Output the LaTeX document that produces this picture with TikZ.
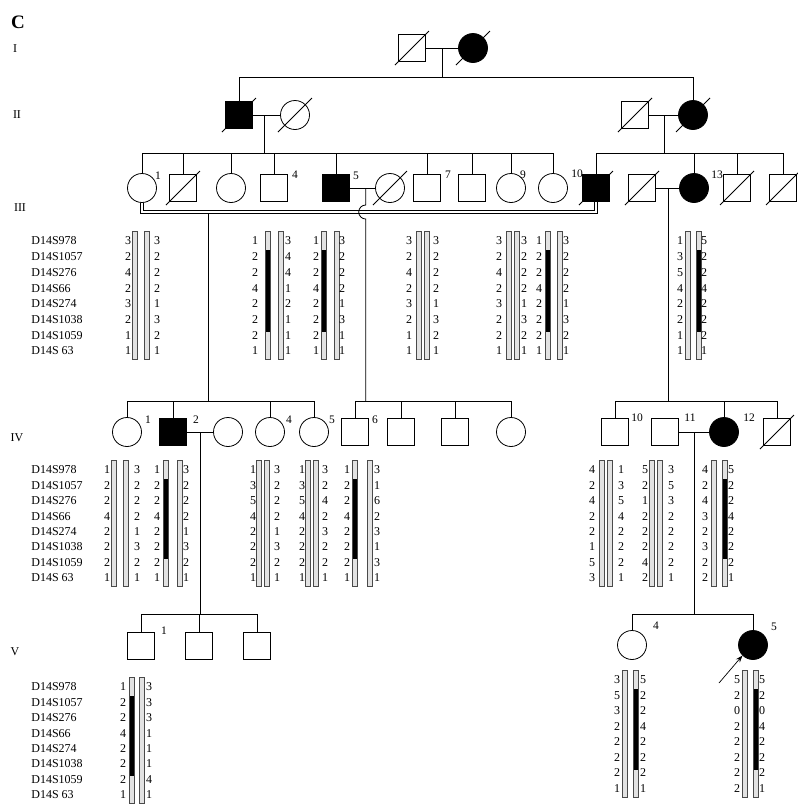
\documentclass[tikz,border=0pt]{standalone}
\usepackage{fontspec}
\setmainfont{Liberation Serif}
\usetikzlibrary{arrows.meta, calc}
\definecolor{barink}{HTML}{4A4A4A}
\definecolor{barfill}{HTML}{E2E2E2}
\newcommand{\gone}[1]{\draw (#1.center) ++(-17,17) -- ++(34,-34);}
\newcommand{\markers}[1]{%
  \foreach \m [count=\i from 0] in {D14S978,D14S1057,D14S276,D14S66,D14S274,D14S1038,D14S1059,D14S 63}
    \node[marker] (#1-mk\i) at (31,\rowy+\i*\rowh) {\m};}
\newcommand{\chrom}[1]{%
  \draw[barink, fill=barfill, line width=0.7pt]
    (#1-2.4,\rowy-0.6*\rowh) rectangle (#1+2.4,\rowy+7.55*\rowh);}
\newcommand{\mut}[1]{%
  \fill[black] (#1-2.4,\rowy+0.6*\rowh) rectangle (#1+2.4,\rowy+5.8*\rowh);}
\newcommand{\haplo}[7]{%
  \chrom{#3}\chrom{#4}%
  \foreach \a [count=\i from 0] in {#6} \node[allele] (#1-l\i) at (#2,\rowy+\i*\rowh) {\a};%
  \foreach \a [count=\i from 0] in {#7} \node[allele] (#1-r\i) at (#5,\rowy+\i*\rowh) {\a};}

\begin{document}
\begin{tikzpicture}[x=1pt, y=-1pt, line width=0.8pt,
  male/.style={draw, rectangle, minimum size=27pt, inner sep=0pt},
  female/.style={draw, circle, minimum size=29pt, inner sep=0pt},
  aff/.style={fill=black},
  tag/.style={font=\fontsize{11.5}{12}\selectfont, inner sep=0pt},
  gen/.style={font=\fontsize{12}{12}\selectfont, inner sep=0pt},
  marker/.style={font=\fontsize{12}{12}\selectfont, anchor=west, inner sep=0pt},
  allele/.style={font=\fontsize{12}{12}\selectfont, inner sep=0pt},
  tie/.style={double, double distance=2.2pt, line width=0.7pt}]
  \useasboundingbox (0,0) rectangle (798,804);

  \node[font=\bfseries\fontsize{19}{19}\selectfont, inner sep=0pt] (panel) at (18,22) {C};
  \node[gen] (gI) at (15,49) {I};
  \node[gen] (gII) at (17,115) {II};
  \node[gen] (gIII) at (20,208) {III};
  \node[gen] (gIV) at (17,438) {IV};
  \node[gen] (gV) at (15,652) {V};

  \coordinate (s2) at (0,77);
  \coordinate (s3) at (0,153);
  \coordinate (s3b) at (0,212);
  \coordinate (s4) at (0,401);
  \coordinate (s5) at (0,614);

  \node[male] (I1) at (412,48) {};
  \node[female, aff] (I2) at (473,48) {};
  \gone{I1}\gone{I2}
  \draw (I1) -- (I2);
  \coordinate (d1) at ($(I1)!0.5!(I2)$);
  \draw (d1) -- (d1 |- s2);

  \node[male, aff] (II1) at (239,115) {};
  \node[female] (II2) at (295,115) {};
  \node[male] (II3) at (635,115) {};
  \node[female, aff] (II4) at (693,115) {};
  \gone{II1}\gone{II2}\gone{II3}\gone{II4}
  \draw (II1.north) |- (II4.north |- s2) -- (II4.north);
  \draw (II1) -- (II2);
  \draw (II3) -- (II4);
  \coordinate (d2) at ($(II1)!0.45!(II2)$);
  \coordinate (d3) at ($(II3)!0.5!(II4)$);
  \draw (d2) -- (d2 |- s3);
  \draw (d3) -- (d3 |- s3);

  \node[female] (III1) at (142,188) {};
  \node[male] (III2) at (183,188) {};
  \node[female] (III3) at (231,188) {};
  \node[male] (III4) at (274,188) {};
  \node[male, aff] (III5) at (336,188) {};
  \node[female] (III6) at (390,188) {};
  \node[male] (III7) at (427,188) {};
  \node[male] (III8) at (472,188) {};
  \node[female] (III9) at (511,188) {};
  \node[female] (III10) at (553,188) {};
  \node[male, aff] (III11) at (596,188) {};
  \node[male] (III12) at (642,188) {};
  \node[female, aff] (III13) at (694,188) {};
  \node[male] (III14) at (737,188) {};
  \node[male] (III15) at (783,188) {};
  \gone{III2}\gone{III6}\gone{III11}\gone{III12}\gone{III14}\gone{III15}
  \node[tag] (t1) at (158,176) {1};
  \node[tag] (t4) at (295,175) {4};
  \node[tag] (t5) at (356,176) {5};
  \node[tag] (t7) at (448,175) {7};
  \node[tag] (t9) at (523,175) {9};
  \node[tag] (t10) at (577,174) {10};
  \node[tag] (t13) at (717,175) {13};
  \draw (III1.north |- s3) -- (III10.north |- s3);
  \foreach \p in {III1,III2,III3,III4,III5,III7,III8,III9,III10}
    \draw (\p.north) -- (\p.north |- s3);
  \draw (III11.north |- s3) -- (III15.north |- s3);
  \foreach \p in {III11,III13,III14,III15}
    \draw (\p.north) -- (\p.north |- s3);
  \draw (III5) -- (III6);
  \draw (III12) -- (III13);
  \coordinate (d4) at (208,212);
  \coordinate (d5) at ($(III5)!0.55!(III6)$);
  \coordinate (d6) at ($(III12)!0.5!(III13)$);
  \draw (d4) -- (d4 |- s4);
  \draw[tie] (III1.south) -- (III1.south |- s3b) -- (III11.south |- s3b) -- (III11.south);
  \draw (d5) -- ++(0,17) arc[start angle=-90, end angle=-270, radius=7] -- (d5 |- s4);
  \draw (d6) -- (d6 |- s4);

  \node[female] (IV1) at (127,432) {};
  \node[male, aff] (IV2) at (173,432) {};
  \node[female] (IV3) at (228,432) {};
  \node[female] (IV4) at (270,432) {};
  \node[female] (IV5) at (314,432) {};
  \node[male] (IV6) at (355,432) {};
  \node[male] (IV7) at (401,432) {};
  \node[male] (IV8) at (455,432) {};
  \node[female] (IV9) at (511,432) {};
  \node[male] (IV10) at (615,432) {};
  \node[male] (IV11) at (665,432) {};
  \node[female, aff] (IV12) at (724,432) {};
  \node[male] (IV13) at (777,432) {};
  \gone{IV13}
  \node[tag] (u1) at (148,420) {1};
  \node[tag] (u2) at (196,420) {2};
  \node[tag] (u4) at (289,420) {4};
  \node[tag] (u5) at (332,420) {5};
  \node[tag] (u6) at (375,420) {6};
  \node[tag] (u10) at (637,418) {10};
  \node[tag] (u11) at (690,418) {11};
  \node[tag] (u12) at (749,418) {12};
  \draw (IV1.north |- s4) -- (IV5.north |- s4);
  \draw (IV6.north |- s4) -- (IV9.north |- s4);
  \draw (IV10.north |- s4) -- (IV13.north |- s4);
  \foreach \p in {IV1,IV2,IV4,IV5,IV6,IV7,IV8,IV9,IV10,IV12,IV13}
    \draw (\p.north) -- (\p.north |- s4);
  \draw (IV2) -- (IV3);
  \draw (IV11) -- (IV12);
  \coordinate (d7) at ($(IV2)!0.5!(IV3)$);
  \coordinate (d8) at ($(IV11)!0.5!(IV12)$);
  \draw (d7) -- (d7 |- s5);
  \draw (d8) -- (d8 |- s5);

  \node[male] (V1) at (141,646) {};
  \node[male] (V2) at (199,646) {};
  \node[male] (V3) at (257,646) {};
  \node[female] (V4) at (632,645) {};
  \node[female, aff] (V5) at (753,645) {};
  \node[tag] (v1) at (164,631) {1};
  \node[tag] (v4) at (656,626) {4};
  \node[tag] (v5) at (774,627) {5};
  \draw (V1.north |- s5) -- (V3.north |- s5);
  \draw (V4.north |- s5) -- (V5.north |- s5);
  \foreach \p in {V1,V2,V3,V4,V5}
    \draw (\p.north) -- (\p.north |- s5);
  \coordinate (pointer) at (719,683);
  \draw[-{Stealth[length=7pt, width=5pt]}, line width=0.7pt] (pointer) -- (V5.south west);

  \def\rowy{241}\def\rowh{15.7}
  \markers{III}
  \haplo{h1}{128}{135}{147}{157}{3,2,4,2,3,2,1,1}{3,2,2,2,1,3,2,1}
  \haplo{h2}{255}{268}{281}{288}{1,2,2,4,2,2,2,1}{3,4,4,1,2,1,1,1}\mut{268}
  \haplo{h3}{316}{324}{337}{342}{1,2,2,4,2,2,2,1}{3,2,2,2,1,3,1,1}\mut{324}
  \haplo{h4}{409}{419}{427}{436}{3,2,4,2,3,2,1,1}{3,2,2,2,1,3,2,1}
  \haplo{h5}{499}{509}{517}{524}{3,2,4,2,3,2,2,1}{3,2,2,2,1,3,2,1}
  \haplo{h6}{539}{548}{560}{566}{1,2,2,4,2,2,2,1}{3,2,2,2,1,3,2,1}\mut{548}
  \haplo{h7}{680}{688}{699}{704}{1,3,5,4,2,2,1,1}{5,2,2,4,2,2,2,1}\mut{699}

  \def\rowy{470}\def\rowh{15.4}
  \markers{IV}
  \haplo{k1}{107}{114}{126}{137}{1,2,2,4,2,2,2,1}{3,2,2,2,1,3,2,1}
  \haplo{k2}{157}{166}{180}{186}{1,2,2,4,2,2,2,1}{3,2,2,2,1,3,2,1}\mut{166}
  \haplo{k4}{253}{259}{267}{277}{1,3,5,4,2,2,2,1}{3,2,2,2,1,3,2,1}
  \haplo{k5}{302}{308}{316}{325}{1,3,5,4,2,2,2,1}{3,2,4,2,3,2,2,1}
  \haplo{k6}{347}{355}{370}{377}{1,2,2,4,2,2,2,1}{3,1,6,2,3,1,3,1}\mut{355}
  \haplo{k10}{592}{602}{610}{621}{4,2,4,2,2,1,5,3}{1,3,5,4,2,2,2,1}
  \haplo{k11}{645}{652}{660}{671}{5,2,1,2,2,2,4,2}{3,5,3,2,2,2,2,1}
  \haplo{k12}{705}{714}{725}{731}{4,2,4,3,2,3,2,2}{5,2,2,4,2,2,2,1}\mut{725}

  \def\rowy{687}\def\rowh{15.4}
  \markers{V}
  \haplo{m1}{123}{132}{142}{149}{1,2,2,4,2,2,2,1}{3,3,3,1,1,1,4,1}\mut{132}
  \def\rowy{680}\def\rowh{15.5}
  \haplo{m4}{617}{625}{636}{643}{3,5,3,2,2,2,2,1}{5,2,2,4,2,2,2,1}\mut{636}
  \haplo{m5}{737}{745}{756}{762}{5,2,0,2,2,2,2,2}{5,2,0,4,2,2,2,1}\mut{756}
\end{tikzpicture}
\end{document}
